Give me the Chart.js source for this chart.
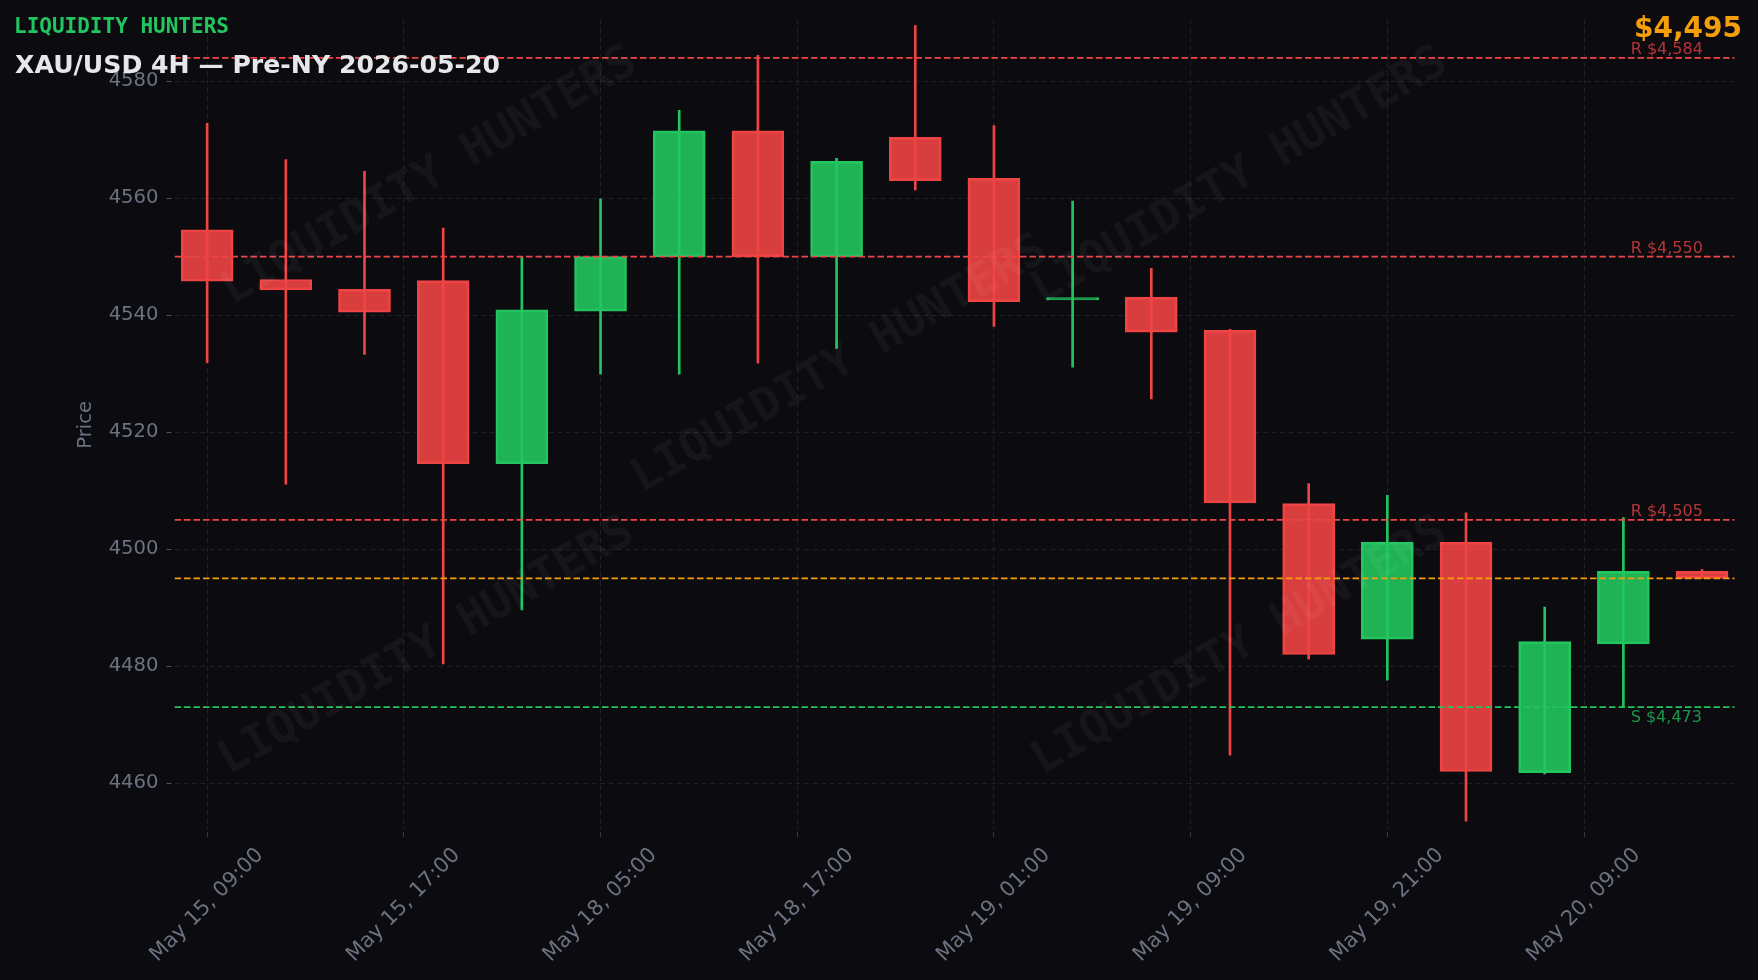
<!DOCTYPE html>
<html>
<head>
<meta charset="utf-8">
<title>XAU/USD 4H — Pre-NY 2026-05-20</title>
<script src="https://cdn.jsdelivr.net/npm/chart.js@4.4.1/dist/chart.umd.min.js"></script>
<style>
  html, body { margin: 0; padding: 0; background: #0b0b10; }
  #wrap { width: 1758px; height: 980px; }
</style>
</head>
<body>
<div id="wrap"><canvas id="chart" width="1758" height="980"></canvas></div>
<script>
// 4H candles, May 15 09:00 -> May 20
const candleOpen  = [4554.6, 4546.1, 4544.4, 4545.9, 4514.6, 4540.7, 4550.0, 4571.5, 4550.0, 4570.4,
                     4563.4, 4542.6, 4543.1, 4537.4, 4507.8, 4484.6, 4501.2, 4461.8, 4483.8, 4496.2];
const candleHigh  = [4572.8, 4566.6, 4564.6, 4554.9, 4550.0, 4559.9, 4575.0, 4584.4, 4566.8, 4589.5,
                     4572.4, 4559.5, 4548.0, 4537.6, 4511.2, 4509.2, 4506.2, 4490.1, 4505.4, 4496.5];
const candleLow   = [4531.9, 4511.1, 4533.3, 4480.4, 4489.6, 4529.9, 4529.9, 4531.8, 4534.3, 4561.4,
                     4538.1, 4531.1, 4525.7, 4464.8, 4481.2, 4477.6, 4453.5, 4461.6, 4473.0, 4495.0];
const candleClose = [4545.8, 4544.3, 4540.5, 4514.6, 4540.9, 4550.0, 4571.5, 4550.0, 4566.3, 4563.0,
                     4542.3, 4543.0, 4537.1, 4507.9, 4482.0, 4501.2, 4462.0, 4484.2, 4496.2, 4495.0];

const xTickPos    = [0, 2.5, 5, 7.5, 10, 12.5, 15, 17.5];
const xTickLabels = ['May 15, 09:00', 'May 15, 17:00', 'May 18, 05:00', 'May 18, 17:00',
                     'May 19, 01:00', 'May 19, 09:00', 'May 19, 21:00', 'May 20, 09:00'];
const yTicks      = [4460, 4480, 4500, 4520, 4540, 4560, 4580];

// key levels
const levelValues = [4584, 4550, 4505, 4495, 4473];
const levelLabels = ['R $4,584', 'R $4,550', 'R $4,505', '', 'S $4,473'];
const levelKinds  = ['R', 'R', 'R', 'P', 'S'];

const lastPrice = 4495;

const RED = '#ef4444';
const GREEN = '#22c55e';
const ORANGE = '#f59e0b';
const BG = '#0b0b10';
const GRID = '#202028';
const MUTED = '#6b7280';

const X_MIN = -0.415, X_MAX = 19.415;
const Y_MIN = 4452, Y_MAX = 4590.5;

const isUp = candleOpen.map((o, i) => candleClose[i] >= o);
const bodyFill = isUp.map(u => u ? 'rgba(34,197,94,0.9)' : 'rgba(239,68,68,0.9)');
const bodyLine = isUp.map(u => u ? GREEN : RED);
const kindColor = { R: RED, S: GREEN, P: ORANGE };

const datasets = [];
levelValues.forEach((v, i) => {
    datasets.push({
        type: 'line',
        data: [{ x: X_MIN, y: v }, { x: X_MAX, y: v }],
        borderColor: kindColor[levelKinds[i]],
        borderWidth: 1.8,
        borderDash: [6.5, 3],
        pointRadius: 0,
        order: 0
    });
});
datasets.push({
    type: 'bar',
    data: candleOpen.map((o, i) => ({ x: i, y: [o, candleClose[i]] })),
    backgroundColor: bodyFill,
    borderColor: bodyLine,
    borderWidth: 2,
    borderSkipped: false,
    barThickness: 52,
    grouped: false,
    order: 1
});
datasets.push({
    type: 'bar',
    data: candleLow.map((l, i) => ({ x: i, y: [l, candleHigh[i]] })),
    backgroundColor: bodyLine,
    borderWidth: 0,
    barThickness: 2,
    grouped: false,
    order: 2
});

const backgroundPlugin = {
    id: 'bg',
    beforeDraw(chart) {
        const ctx = chart.ctx;
        ctx.save();
        ctx.fillStyle = BG;
        ctx.fillRect(0, 0, chart.width, chart.height);
        ctx.restore();
    }
};

const watermarkPlugin = {
    id: 'watermark',
    afterDatasetsDraw(chart) {
        const ctx = chart.ctx;
        const spots = [[430, 177], [1240, 177], [840, 365], [427, 647], [1240, 647]];
        ctx.save();
        ctx.fillStyle = 'rgba(255,255,255,0.045)';
        ctx.font = 'bold 46px "DejaVu Sans Mono"';
        ctx.textAlign = 'center';
        ctx.textBaseline = 'middle';
        spots.forEach(([x, y]) => {
            ctx.save();
            ctx.translate(x, y);
            ctx.rotate(-30 * Math.PI / 180);
            ctx.fillText('LIQUIDITY HUNTERS', 0, 0);
            ctx.restore();
        });
        ctx.restore();
    }
};

const annotationPlugin = {
    id: 'annotations',
    afterDraw(chart) {
        const ctx = chart.ctx;
        const yScale = chart.scales.y;
        const area = chart.chartArea;
        ctx.save();
        // level labels
        ctx.font = '16px "DejaVu Sans"';
        ctx.textAlign = 'left';
        ctx.textBaseline = 'alphabetic';
        levelValues.forEach((v, i) => {
            if (!levelLabels[i]) return;
            const y = yScale.getPixelForValue(v);
            ctx.fillStyle = levelKinds[i] === 'S' ? 'rgba(34,197,94,0.75)' : 'rgba(239,68,68,0.75)';
            ctx.fillText(levelLabels[i], area.right - 104, levelKinds[i] === 'S' ? y + 15 : y - 3.5);
        });
        // titles
        ctx.fillStyle = GREEN;
        ctx.font = 'bold 21px "DejaVu Sans Mono"';
        ctx.fillText('LIQUIDITY HUNTERS', 14, 33);
        ctx.fillStyle = '#e5e7eb';
        ctx.font = 'bold 25.2px "DejaVu Sans"';
        ctx.fillText('XAU/USD 4H — Pre-NY 2026-05-20', 15, 73);
        ctx.fillStyle = ORANGE;
        ctx.font = 'bold 28px "DejaVu Sans"';
        ctx.textAlign = 'right';
        ctx.fillText('$' + lastPrice.toLocaleString('en-US'), 1742, 37);
        ctx.restore();
    }
};

Chart.defaults.font.family = '"DejaVu Sans", sans-serif';

new Chart(document.getElementById('chart'), {
    data: { datasets: datasets },
    options: {
        responsive: false,
        animation: false,
        layout: { padding: { top: 17, right: 23.3, left: 0, bottom: 0 } },
        plugins: { legend: { display: false }, tooltip: { enabled: false } },
        scales: {
            x: {
                type: 'linear',
                min: X_MIN,
                max: X_MAX,
                offset: false,
                afterFit(scale) { scale.height = 150; },
                afterBuildTicks(scale) { scale.ticks = xTickPos.map(v => ({ value: v })); },
                border: { display: false, dash: [5, 3.5] },
                grid: {
                    offset: false,
                    color: GRID,
                    tickLength: 7,
                    tickColor: '#3a3a45',
                    tickBorderDash: [5, 20],
                    tickBorderDashOffset: -2
                },
                ticks: {
                    autoSkip: false,
                    minRotation: 45,
                    maxRotation: 45,
                    padding: 6,
                    labelOffset: 53,
                    color: MUTED,
                    font: { size: 21 },
                    callback: (v) => {
                        const i = xTickPos.indexOf(v);
                        return i >= 0 ? xTickLabels[i] : '';
                    }
                }
            },
            y: {
                type: 'linear',
                min: Y_MIN,
                max: Y_MAX,
                afterFit(scale) { scale.width = 174.5; },
                afterBuildTicks(scale) { scale.ticks = yTicks.map(v => ({ value: v })); },
                border: { display: false, dash: [5, 3.5] },
                grid: {
                    color: GRID,
                    tickLength: 8,
                    tickColor: '#4b5563',
                    tickBorderDash: [5, 20]
                },
                ticks: {
                    padding: 8,
                    color: MUTED,
                    font: { size: 19.6 },
                    callback: (v) => String(v)
                },
                title: {
                    display: true,
                    text: 'Price',
                    color: MUTED,
                    font: { size: 19.6 },
                    padding: { top: 74, bottom: 0 }
                }
            }
        }
    },
    plugins: [backgroundPlugin, watermarkPlugin, annotationPlugin]
});
</script>
</body>
</html>
